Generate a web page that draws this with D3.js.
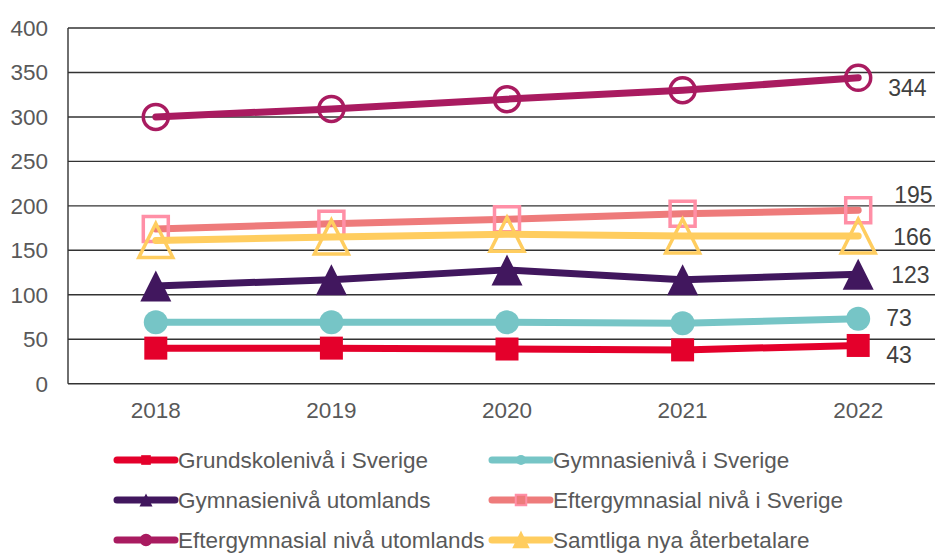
<!DOCTYPE html>
<html>
<head>
<meta charset="utf-8">
<script src="https://cdn.jsdelivr.net/npm/d3@7"></script>
<style>
	body { margin: 0; background: #fff; }
	svg { display: block; font-family: Arial, "Liberation Sans", sans-serif; }
</style>
</head>
<body>
<div id="chart"></div>
<script>
// values
const years = ['2018', '2019', '2020', '2021', '2022'];
const grundskolaSverige = [40, 40, 39, 38, 43];
const gymnasieSverige = [69, 69, 69, 68, 73];
const gymnasieUtomlands = [110, 117, 128, 117, 123];
const eftergymnasialSverige = [174, 180, 185, 191, 195];
const eftergymnasialUtomlands = [300, 309, 320, 330, 344];
const samtliga = [161, 165, 168, 166, 166];
const yTicks = [0, 50, 100, 150, 200, 250, 300, 350, 400];

const series = [
	{name: 'Grundskolenivå i Sverige', values: grundskolaSverige, line: '#E4002B', marker: 'square', fill: '#E4002B', stroke: 'none', size: 23, labelDx: 28, labelDy: 17.5},
	{name: 'Gymnasienivå i Sverige', values: gymnasieSverige, line: '#76C5C6', marker: 'circle', fill: '#76C5C6', stroke: 'none', size: 24, labelDx: 28, labelDy: 7},
	{name: 'Gymnasienivå utomlands', values: gymnasieUtomlands, line: '#41175E', marker: 'triangle', fill: '#41175E', stroke: 'none', size: 31, labelDx: 33, labelDy: 8.5},
	{name: 'Eftergymnasial nivå i Sverige', values: eftergymnasialSverige, line: '#EE7B7B', marker: 'square', fill: 'none', stroke: '#FF8FA6', size: 25, labelDx: 36, labelDy: -7},
	{name: 'Eftergymnasial nivå utomlands', values: eftergymnasialUtomlands, line: '#A91B60', marker: 'circle', fill: 'none', stroke: '#A91B60', size: 25, labelDx: 30, labelDy: 18},
	{name: 'Samtliga nya återbetalare', values: samtliga, line: '#FFCD5F', marker: 'triangle', fill: 'none', stroke: '#FFCD5F', size: 34, labelDx: 35, labelDy: 9}
];

const width = 935;
const height = 554;
const plot = {left: 68, right: 946, top: 28, bottom: 383.7};

const _markerPath = (type, s) =>{
	const h = s / 2;
	if (type === 'square') return `M${-h},${-h}H${h}V${h}H${-h}Z`;
	if (type === 'triangle') return `M0,${-h}L${h},${h}L${-h},${h}Z`;
	return `M${h},0A${h},${h} 0 1,1 ${-h},0A${h},${h} 0 1,1 ${h},0Z`;
};

const svg = d3.select('#chart')
	.append('svg')
	.attr('width', width)
	.attr('height', height);

const xScale = d3.scalePoint()
	.domain(years)
	.range([plot.left, plot.right])
	.padding(0.5);

const yScale = d3.scaleLinear()
	.domain([0, 400])
	.range([plot.bottom, plot.top]);

// gridlines + axis line
svg.append('g')
	.selectAll('line')
	.data(yTicks)
	.enter()
	.append('line')
	.attr('x1', plot.left)
	.attr('x2', plot.right)
	.attr('y1', d => yScale(d))
	.attr('y2', d => yScale(d))
	.attr('stroke', '#333')
	.attr('stroke-width', 1.4);

svg.append('line')
	.attr('x1', plot.left)
	.attr('x2', plot.left)
	.attr('y1', plot.top)
	.attr('y2', plot.bottom)
	.attr('stroke', '#333')
	.attr('stroke-width', 1.4);

svg.append('g')
	.selectAll('text')
	.data(yTicks)
	.enter()
	.append('text')
	.attr('x', 48)
	.attr('y', d => yScale(d) + 8)
	.attr('text-anchor', 'end')
	.attr('font-size', 22.5)
	.attr('fill', '#595959')
	.text(d => d);

svg.append('g')
	.selectAll('text')
	.data(years)
	.enter()
	.append('text')
	.attr('x', d => xScale(d))
	.attr('y', 418)
	.attr('text-anchor', 'middle')
	.attr('font-size', 22.5)
	.attr('fill', '#595959')
	.text(d => d);

const line = d3.line()
	.x((d, i) => xScale(years[i]))
	.y(d => yScale(d));

series.forEach(s =>{
	const g = svg.append('g');
	g.append('path')
		.attr('d', line(s.values))
		.attr('fill', 'none')
		.attr('stroke', s.line)
		.attr('stroke-width', 7)
		.attr('stroke-linecap', 'round')
		.attr('stroke-linejoin', 'round');

	g.selectAll('path.marker')
		.data(s.values)
		.enter()
		.append('path')
		.attr('class', 'marker')
		.attr('transform', (d, i) => `translate(${xScale(years[i])}, ${yScale(d)})`)
		.attr('d', _markerPath(s.marker, s.size))
		.attr('fill', s.fill)
		.attr('stroke', s.stroke)
		.attr('stroke-width', s.fill === 'none' ? 3.5 : 0)
		.attr('stroke-linejoin', 'miter');

	const last = s.values[s.values.length - 1];
	g.append('text')
		.attr('x', xScale(years[years.length - 1]) + s.labelDx)
		.attr('y', yScale(last) + s.labelDy)
		.attr('font-size', 23)
		.attr('fill', '#404040')
		.text(last);
});

// legend, two columns
const legend = svg.append('g')
	.selectAll('g')
	.data(series)
	.enter()
	.append('g')
	.attr('transform', (d, i) => `translate(${i % 2 === 0 ? 117 : 492}, ${460 + Math.floor(i / 2) * 40})`);

legend.append('line')
	.attr('x1', 0)
	.attr('x2', 58)
	.attr('stroke', d => d.line)
	.attr('stroke-width', 7)
	.attr('stroke-linecap', 'round');

legend.append('path')
	.attr('transform', 'translate(29, 0)')
	.attr('d', d => _markerPath(d.marker, d.size * 0.42))
	.attr('fill', d => d.fill === 'none' ? d.line : d.fill)
	.attr('stroke', d => d.stroke)
	.attr('stroke-width', d => d.fill === 'none' ? 2 : 0);

legend.append('text')
	.attr('x', 61)
	.attr('y', 8)
	.attr('font-size', 22.5)
	.attr('fill', '#595959')
	.text(d => d.name);
</script>
</body>
</html>
